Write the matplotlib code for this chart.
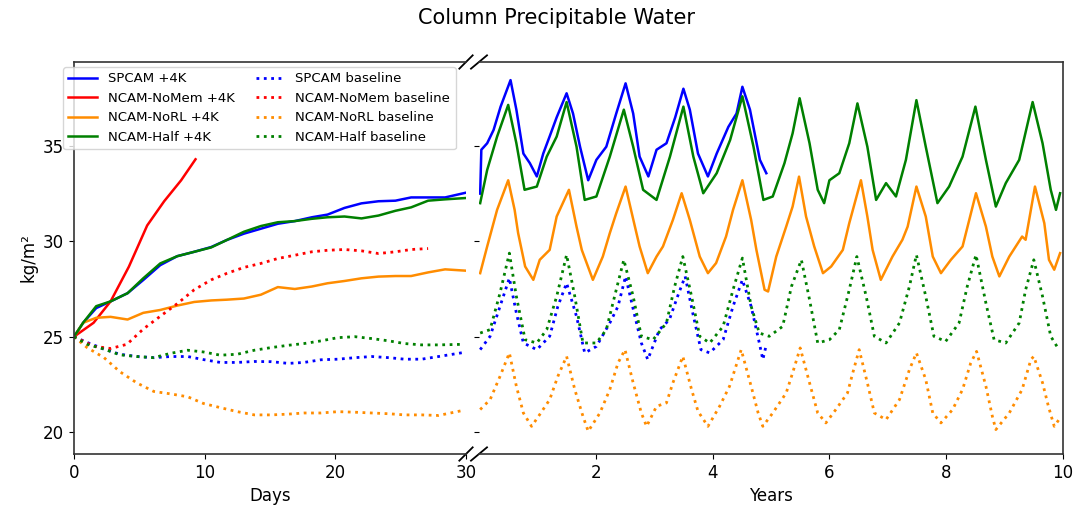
import matplotlib
matplotlib.use('Agg')
import matplotlib.pyplot as plt

# ---- left panel: first 30 days (kg/m^2) ----
days_solid = [0, 0.7, 1.7, 2.8, 4.1, 5.3, 6.6, 7.9, 9.2, 10.5, 11.7, 13.0, 14.3,
              15.6, 16.9, 18.2, 19.4, 20.7, 22.0, 23.3, 24.6, 25.8, 27.1, 28.4, 30.0]
sp_4k = [25.0, 25.73, 26.5, 26.85, 27.28, 27.97, 28.75, 29.22, 29.45, 29.7, 30.07, 30.4, 30.66,
         30.92, 31.06, 31.26, 31.4, 31.75, 31.99, 32.1, 32.13, 32.3, 32.3, 32.3, 32.55]
half_4k = [25.0, 25.73, 26.6, 26.85, 27.28, 28.06, 28.84, 29.22, 29.45, 29.68, 30.07, 30.5, 30.8,
           31.0, 31.06, 31.18, 31.26, 31.3, 31.2, 31.35, 31.6, 31.78, 32.13, 32.2, 32.27]
norl_4k = [25.0, 25.73, 25.99, 26.04, 25.9, 26.25, 26.4, 26.63, 26.82, 26.9, 26.94, 27.0, 27.2,
           27.6, 27.5, 27.63, 27.8, 27.92, 28.06, 28.15, 28.18, 28.18, 28.37, 28.53, 28.46]

nomem_days = [0, 1.5, 2.8, 4.2, 5.6, 6.9, 8.2, 9.3]
nomem_4k = [25.0, 25.73, 26.85, 28.67, 30.83, 32.1, 33.2, 34.3]

nomem_base_days = [0, 1.5, 2.8, 4.05, 5.3, 6.6, 7.9, 9.2, 10.5, 11.7, 13.0, 14.3, 15.6,
                   16.9, 18.2, 19.4, 20.7, 22.0, 23.3, 24.6, 25.8, 27.1]
nomem_base = [25.0, 24.5, 24.38, 24.6, 25.4, 26.07, 26.73, 27.46, 27.98, 28.32, 28.63, 28.84, 29.1,
              29.27, 29.45, 29.53, 29.57, 29.5, 29.36, 29.45, 29.57, 29.62]

days_dot = [0, 1.0, 2.3, 3.5, 4.8, 6.1, 7.4, 8.7, 9.9, 11.2, 12.5, 13.8, 15.1, 16.4,
            17.6, 18.9, 20.2, 21.5, 22.8, 24.1, 25.3, 26.6, 27.9, 29.8]
sp_base = [25.0, 24.7, 24.35, 24.08, 23.96, 23.9, 23.96, 23.96, 23.8, 23.65, 23.65, 23.7, 23.69, 23.6,
           23.65, 23.79, 23.82, 23.9, 23.96, 23.9, 23.82, 23.82, 23.96, 24.17]
half_base = [25.0, 24.6, 24.35, 24.05, 23.96, 23.9, 24.13, 24.29, 24.2, 24.03, 24.08, 24.29, 24.43, 24.55,
             24.64, 24.78, 24.95, 25.0, 24.9, 24.78, 24.64, 24.57, 24.57, 24.6]
norl_base = [25.0, 24.43, 23.9, 23.17, 22.58, 22.13, 22.0, 21.85, 21.5, 21.28, 21.07, 20.9, 20.9, 20.94,
             21.0, 21.0, 21.07, 21.04, 21.0, 20.96, 20.9, 20.9, 20.87, 21.14]

# ---- right panel: 10 years ----
yr_sp_4k = [0.02, 0.04, 0.14, 0.25, 0.37, 0.54, 0.64, 0.76, 0.87, 0.99, 1.1, 1.21, 1.33, 1.5, 1.61,
            1.73, 1.87, 2.01, 2.18, 2.35, 2.51, 2.64, 2.75, 2.9, 3.04, 3.21, 3.36, 3.5, 3.61, 3.75,
            3.92, 4.07, 4.27, 4.41, 4.51, 4.64, 4.81, 4.92]
cpw_sp_4k = [32.5, 34.8, 35.14, 35.84, 37.06, 38.45, 36.9, 34.6, 34.1, 33.4, 34.6, 35.5, 36.5, 37.76, 36.7,
             34.96, 33.2, 34.27, 34.96, 36.7, 38.28, 36.7, 34.44, 33.4, 34.8, 35.14, 36.5, 38.0, 36.9, 34.6,
             33.4, 34.6, 36.0, 36.7, 38.1, 36.9, 34.27, 33.57]

yr_half_4k = [0.02, 0.14, 0.31, 0.5, 0.64, 0.78, 0.99, 1.16, 1.33, 1.5, 1.67, 1.81, 2.01, 2.24, 2.48,
              2.64, 2.81, 3.04, 3.27, 3.5, 3.67, 3.84, 4.07, 4.3, 4.51, 4.7, 4.87, 5.03, 5.23, 5.37,
              5.49, 5.66, 5.8, 5.91, 6.0, 6.17, 6.34, 6.48, 6.65, 6.8, 6.97, 7.14, 7.31, 7.49, 7.65,
              7.85, 8.05, 8.28, 8.5, 8.68, 8.85, 9.02, 9.25, 9.48, 9.65, 9.79, 9.88, 9.95]
cpw_half_4k = [32.0, 33.74, 35.49, 37.15, 35.14, 32.7, 32.87, 34.44, 35.49, 37.3, 34.96, 32.17, 32.35, 34.44, 36.9,
               34.96, 32.7, 32.17, 34.44, 37.06, 34.44, 32.52, 33.57, 35.31, 37.6, 34.96, 32.17, 32.35, 34.09, 35.66,
               37.5, 35.14, 32.7, 32.0, 33.2, 33.57, 35.14, 37.23, 34.96, 32.17, 33.05, 32.35, 34.27, 37.4, 34.96,
               32.0, 32.87, 34.44, 37.06, 34.27, 31.82, 33.05, 34.27, 37.3, 35.14, 32.7, 31.65, 32.52]

yr_norl_4k = [0.02, 0.14, 0.31, 0.5, 0.61, 0.67, 0.79, 0.93, 1.04, 1.21, 1.33, 1.54, 1.67, 1.76, 1.95,
              2.12, 2.24, 2.35, 2.51, 2.67, 2.75, 2.89, 3.04, 3.15, 3.32, 3.47, 3.61, 3.78, 3.92, 4.06,
              4.23, 4.35, 4.51, 4.66, 4.75, 4.89, 4.95, 5.09, 5.26, 5.37, 5.48, 5.6, 5.74, 5.89, 6.03,
              6.23, 6.34, 6.54, 6.65, 6.74, 6.88, 7.08, 7.25, 7.34, 7.49, 7.65, 7.77, 7.91, 8.08, 8.28,
              8.51, 8.68, 8.79, 8.91, 9.08, 9.3, 9.36, 9.52, 9.68, 9.76, 9.85, 9.95]
cpw_norl_4k = [28.33, 29.73, 31.65, 33.2, 31.65, 30.43, 28.68, 27.98, 29.03, 29.55, 31.3, 32.7, 30.77, 29.55, 27.98,
               29.2, 30.43, 31.47, 32.87, 30.77, 29.73, 28.33, 29.2, 29.73, 31.12, 32.52, 31.12, 29.2, 28.33, 28.86,
               30.25, 31.65, 33.2, 31.12, 29.55, 27.46, 27.37, 29.2, 30.77, 31.82, 33.39, 31.3, 29.73, 28.33, 28.68,
               29.55, 30.95, 33.2, 31.3, 29.55, 27.98, 29.2, 30.08, 30.77, 32.87, 31.3, 29.2, 28.33, 29.03, 29.73,
               32.52, 30.77, 29.2, 28.16, 29.2, 30.25, 30.08, 32.87, 30.95, 29.03, 28.51, 29.38]

yr_sp_base = [0.02, 0.19, 0.36, 0.52, 0.64, 0.76, 0.99, 1.21, 1.35, 1.5, 1.67, 1.81, 2.01, 2.24, 2.38,
              2.51, 2.67, 2.78, 2.89, 3.09, 3.26, 3.4, 3.53, 3.66, 3.8, 3.95, 4.18, 4.35, 4.51, 4.66,
              4.8, 4.86, 4.92]
cpw_sp_base = [24.32, 25.02, 26.59, 28.07, 26.24, 24.67, 24.32, 25.02, 26.59, 27.81, 26.06, 24.15, 24.49, 25.72, 26.59,
               28.16, 26.06, 24.67, 23.8, 25.37, 25.89, 27.11, 28.16, 26.24, 24.32, 24.15, 24.84, 26.59, 27.98, 26.59,
               24.67, 23.8, 24.58]

yr_half_base = [0.02, 0.19, 0.36, 0.52, 0.64, 0.79, 0.99, 1.16, 1.33, 1.5, 1.64, 1.78, 2.01, 2.18, 2.35,
                2.48, 2.64, 2.78, 2.98, 3.21, 3.35, 3.49, 3.64, 3.78, 3.95, 4.18, 4.35, 4.51, 4.66, 4.8,
                4.97, 5.2, 5.35, 5.52, 5.66, 5.8, 6.0, 6.17, 6.34, 6.47, 6.63, 6.77, 6.97, 7.2, 7.37,
                7.49, 7.65, 7.79, 7.99, 8.22, 8.36, 8.51, 8.68, 8.82, 9.02, 9.25, 9.36, 9.5, 9.65, 9.79, 9.93]
cpw_half_base = [25.19, 25.37, 27.29, 29.38, 27.11, 24.84, 24.67, 25.37, 27.11, 29.29, 27.11, 24.67, 24.67, 25.37, 27.46,
                 29.03, 27.11, 25.02, 24.84, 25.72, 27.63, 29.2, 27.11, 25.02, 24.67, 25.54, 27.46, 29.12, 26.59, 25.19,
                 25.02, 25.54, 27.63, 29.03, 26.94, 24.67, 24.84, 25.37, 27.46, 29.2, 27.11, 25.02, 24.67, 25.72, 27.63,
                 29.29, 27.11, 25.02, 24.75, 25.72, 27.63, 29.29, 26.76, 24.84, 24.67, 25.72, 27.46, 29.03, 27.11, 25.02, 24.32]

yr_norl_base = [0.02, 0.19, 0.36, 0.52, 0.64, 0.76, 0.9, 1.04, 1.21, 1.35, 1.5, 1.64, 1.78, 1.87, 2.07,
                2.24, 2.38, 2.5, 2.64, 2.78, 2.87, 3.04, 3.21, 3.32, 3.49, 3.64, 3.75, 3.92, 4.12, 4.29,
                4.49, 4.66, 4.78, 4.86, 5.03, 5.26, 5.37, 5.5, 5.66, 5.8, 5.94, 6.11, 6.31, 6.4, 6.51,
                6.65, 6.77, 6.97, 7.2, 7.37, 7.49, 7.65, 7.77, 7.91, 8.11, 8.28, 8.42, 8.52, 8.68, 8.79,
                8.85, 9.08, 9.3, 9.45, 9.5, 9.65, 9.75, 9.85, 9.93]
cpw_norl_base = [21.18, 21.7, 22.92, 24.15, 22.4, 21.0, 20.3, 20.92, 21.7, 22.92, 23.97, 22.23, 20.83, 20.04, 21.0,
                 22.23, 23.62, 24.32, 22.58, 21.0, 20.3, 21.35, 21.53, 22.58, 23.97, 22.23, 21.09, 20.3, 21.35, 22.4,
                 24.32, 22.4, 21.0, 20.3, 21.0, 22.05, 23.1, 24.41, 22.58, 21.0, 20.48, 21.18, 22.05, 23.1, 24.32,
                 22.58, 21.0, 20.65, 21.7, 23.27, 24.15, 22.75, 21.0, 20.48, 21.18, 22.23, 23.62, 24.23, 22.4, 20.83,
                 20.13, 21.0, 22.23, 23.8, 23.97, 22.58, 21.35, 20.3, 20.65]

C_SP, C_NOMEM, C_NORL, C_HALF = 'blue', 'red', 'darkorange', 'green'
LW = 1.8

fig = plt.figure(figsize=(10.88, 5.11), dpi=100)
ax1 = fig.add_axes([74 / 1088, 57 / 511, 392 / 1088, 392 / 511])
ax2 = fig.add_axes([479 / 1088, 57 / 511, 584 / 1088, 392 / 511])

ax1.plot(days_solid, sp_4k, color=C_SP, lw=LW, label='SPCAM +4K')
ax1.plot(nomem_days, nomem_4k, color=C_NOMEM, lw=LW, label='NCAM-NoMem +4K')
ax1.plot(days_solid, norl_4k, color=C_NORL, lw=LW, label='NCAM-NoRL +4K')
ax1.plot(days_solid, half_4k, color=C_HALF, lw=LW, label='NCAM-Half +4K')
ax1.plot(days_dot, sp_base, ':', color=C_SP, lw=2, label='SPCAM baseline')
ax1.plot(nomem_base_days, nomem_base, ':', color=C_NOMEM, lw=2, label='NCAM-NoMem baseline')
ax1.plot(days_dot, norl_base, ':', color=C_NORL, lw=2, label='NCAM-NoRL baseline')
ax1.plot(days_dot, half_base, ':', color=C_HALF, lw=2, label='NCAM-Half baseline')

ax2.plot(yr_sp_4k, cpw_sp_4k, color=C_SP, lw=LW)
ax2.plot(yr_norl_4k, cpw_norl_4k, color=C_NORL, lw=LW)
ax2.plot(yr_half_4k, cpw_half_4k, color=C_HALF, lw=LW)
ax2.plot(yr_sp_base, cpw_sp_base, ':', color=C_SP, lw=2)
ax2.plot(yr_norl_base, cpw_norl_base, ':', color=C_NORL, lw=2)
ax2.plot(yr_half_base, cpw_half_base, ':', color=C_HALF, lw=2)

ylim = (18.85, 39.4)
for ax in (ax1, ax2):
    ax.set_ylim(*ylim)
    ax.set_yticks([20, 25, 30, 35])
    ax.tick_params(labelsize=12)
    for s in ax.spines.values():
        s.set_linewidth(1.2)
        s.set_color('0.2')

ax1.set_xlim(0, 30)
ax1.set_xticks([0, 10, 20, 30])
ax1.spines['right'].set_visible(False)
ax1.set_xlabel('Days', fontsize=12)
ax1.set_ylabel('kg/m²', fontsize=12)

ax2.set_xlim(0, 10)
ax2.set_xticks([2, 4, 6, 8, 10])
ax2.spines['left'].set_visible(False)
ax2.tick_params(axis='y', left=True, labelleft=False, right=False)
ax2.set_xlabel('Years', fontsize=12)

# diagonal break marks
dy = 0.017
dx1 = dy * 392 / 392
dx2 = dy * 392 / 584 * 1.2
kw = dict(color='k', lw=1.3, clip_on=False)
ax1.plot((1 - dx1, 1 + dx1), (-dy, dy), transform=ax1.transAxes, **kw)
ax1.plot((1 - dx1, 1 + dx1), (1 - dy, 1 + dy), transform=ax1.transAxes, **kw)
ax2.plot((-dx2, dx2), (-dy, dy), transform=ax2.transAxes, **kw)
ax2.plot((-dx2, dx2), (1 - dy, 1 + dy), transform=ax2.transAxes, **kw)

ax1.legend(ncol=2, fontsize=9.5, loc='upper left',
           bbox_to_anchor=(63 / 1088, 1 - 67 / 511), bbox_transform=fig.transFigure,
           borderaxespad=0, handlelength=2.2, columnspacing=1.6)

fig.suptitle('Column Precipitable Water', x=556 / 1088, y=0.985, fontsize=15)

fig.savefig('out.png', dpi=100)
